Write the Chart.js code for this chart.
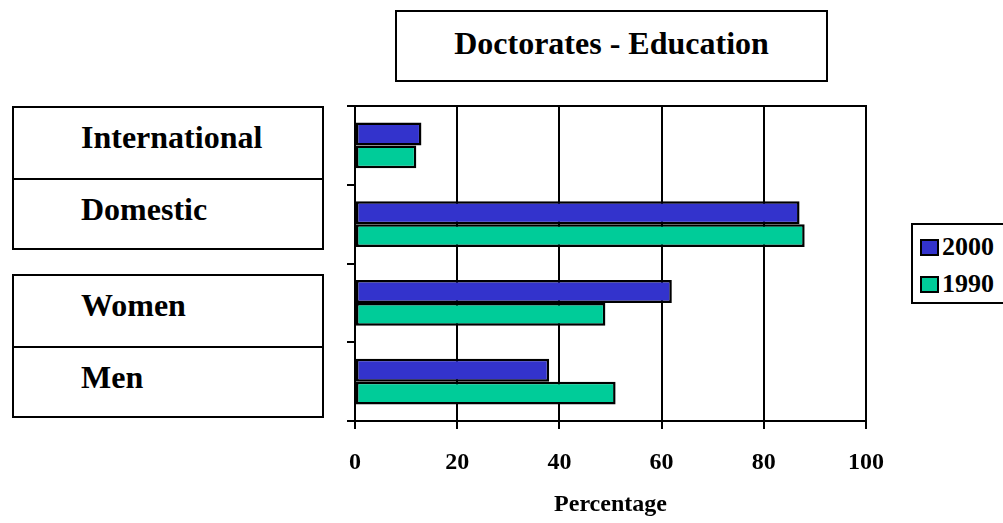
<!DOCTYPE html>
<html>
<head>
<meta charset="utf-8" />
<title>Doctorates - Education</title>
<script src="https://cdn.jsdelivr.net/npm/chart.js@4.4.1/dist/chart.umd.min.js"></script>
<style>
    html, body { margin: 0; padding: 0; background: #fff; overflow: hidden; }
    body { width: 1003px; height: 523px; position: relative; font-family: "Liberation Serif", "Times New Roman", serif; font-weight: bold; color: #000; }
    #wrap { position: absolute; left: 0; top: 0; width: 1003px; height: 523px; }
    .frame { position: absolute; border: 2px solid #000; box-sizing: border-box; background: #fff; }
    #title { left: 395px; top: 10px; width: 433px; height: 72px; font-size: 32px; line-height: 32px; text-align: center; padding-top: 15px; }
    .catbox { left: 12px; width: 312px; height: 144px; }
    .row { height: 70px; box-sizing: border-box; font-size: 32px; line-height: 32px; padding: 13px 0 0 67px; }
    .row + .row { border-top: 2px solid #000; }
    #legend { left: 911px; top: 223px; width: 110px; height: 81px; }
    .item { position: absolute; left: 7px; font-size: 26px; line-height: 26px; }
    .item span { display: inline-block; width: 15px; height: 13px; border: 2px solid #000; margin-right: 3px; vertical-align: -1px; }
</style>
</head>
<body>
<div id="wrap"><canvas id="grafico"></canvas></div>
<div class="frame" id="title">Doctorates - Education</div>
<div class="frame catbox" id="box1" style="top:106px"></div>
<div class="frame catbox" id="box2" style="top:274px"></div>
<div class="frame" id="legend"></div>
<script type="text/javascript">

    // datos
    var categorias = ["International", "Domestic", "Women", "Men"];
    var series = ["2000", "1990"];
    var valores2000 = [13, 87, 62, 38];
    var valores1990 = [12, 88, 49, 51];
    var colores = ["#3333CC", "#00CC99"];
    var ticksX = [0, 20, 40, 60, 80, 100];

    // cajas de categorias (dos por caja)
    categorias.forEach(function (c, i) {
        var caja = document.getElementById(i < 2 ? "box1" : "box2");
        var fila = document.createElement("div");
        fila.className = "row";
        fila.textContent = c;
        caja.appendChild(fila);
    });

    // leyenda
    var leyenda = document.getElementById("legend");
    series.forEach(function (s, i) {
        var it = document.createElement("div");
        it.className = "item";
        it.style.top = (9 + i * 37) + "px";
        it.innerHTML = '<span style="background:' + colores[i] + '"></span>' + s;
        leyenda.appendChild(it);
    });

    var fuente = { family: "Liberation Serif", weight: "bold", size: 24 };

    var config = {
        type: 'bar',
        data: {
            labels: categorias,
            datasets: [{
                label: series[0],
                data: valores2000,
                backgroundColor: colores[0],
                borderColor: "#000",
                borderWidth: 2.5,
                borderSkipped: false,
                categoryPercentage: 0.58,
                barPercentage: 1.0
            }, {
                label: series[1],
                data: valores1990,
                backgroundColor: colores[1],
                borderColor: "#000",
                borderWidth: 2.5,
                borderSkipped: false,
                categoryPercentage: 0.58,
                barPercentage: 1.0
            }]
        },
        options: {
            indexAxis: 'y',
            responsive: true,
            maintainAspectRatio: false,
            animation: false,
            layout: { padding: { left: 347, right: 137, top: 106, bottom: 4 } },
            plugins: { legend: { display: false }, tooltip: { enabled: false } },
            scales: {
                x: {
                    position: 'bottom',
                    min: 0,
                    max: 100,
                    afterBuildTicks: function (scale) {
                        scale.ticks = ticksX.map(function (v) { return { value: v }; });
                    },
                    afterFit: function (scale) { scale.height = 98; },
                    grid: { color: "#000", lineWidth: 2, tickLength: 8 },
                    border: { color: "#000", width: 2 },
                    ticks: { color: "#000", font: fuente, padding: 19, maxRotation: 0 },
                    title: { display: true, text: "Percentage", color: "#000", font: fuente, padding: 0 }
                },
                x2: {
                    position: 'top',
                    min: 0,
                    max: 100,
                    afterFit: function (scale) { scale.height = 0; },
                    grid: { drawOnChartArea: false, drawTicks: false },
                    border: { color: "#000", width: 2 },
                    ticks: { display: false }
                },
                y: {
                    afterFit: function (scale) { scale.width = 8; },
                    grid: { drawOnChartArea: false, color: "#000", lineWidth: 2, tickLength: 8 },
                    border: { color: "#000", width: 2 },
                    ticks: { display: false }
                }
            }
        }
    };

    var ctx = document.getElementById("grafico").getContext("2d");
    var grafico = new Chart(ctx, config);

</script>
</body>
</html>
